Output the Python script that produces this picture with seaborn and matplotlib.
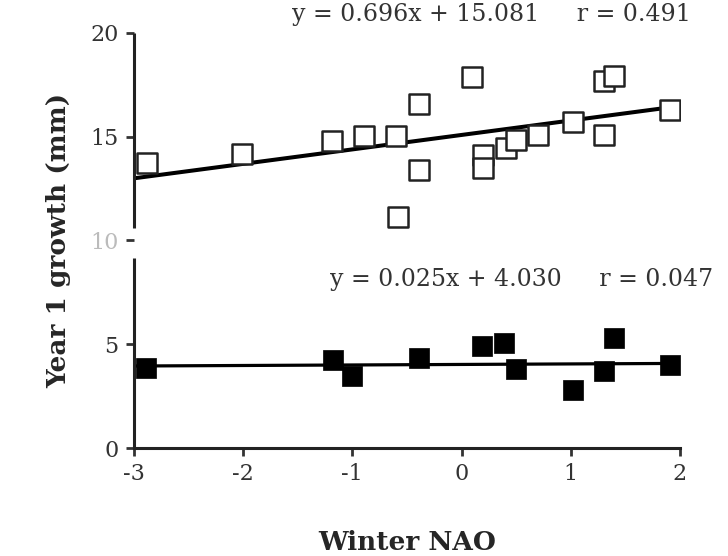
import numpy as np
import pandas as pd
import matplotlib.pyplot as plt
import seaborn as sns

# Data
open_nao = [-2.88, -2.01, -1.19, -0.89, -0.60, -0.39, -0.39, -0.58, 0.10, 0.20, 0.20,
            0.41, 0.50, 0.70, 1.02, 1.30, 1.40, 1.30, 1.91]
open_growth = [13.73, 14.17, 14.80, 15.04, 15.04, 16.58, 13.40, 11.13, 17.88, 14.10, 13.50,
               14.46, 14.84, 15.08, 15.70, 17.70, 17.90, 15.08, 16.30]

filled_nao = [-2.89, -1.18, -1.00, -0.39, 0.19, 0.39, 0.50, 1.02, 1.30, 1.40, 1.91]
filled_growth = [3.86, 4.24, 3.47, 4.34, 4.92, 5.06, 3.80, 2.80, 3.71, 5.30, 4.00]

# fitted lines (slope, intercept, r)
open_fit = (0.696, 15.081, 0.491)
filled_fit = (0.025, 4.030, 0.047)
fit_range = [-3.0, 1.95]

x_ticks = [-3, -2, -1, 0, 1, 2]
y_ticks = [0, 5, 10, 15, 20]

sns.set_style('ticks')
plt.rcParams['font.family'] = ['DejaVu Serif', 'Liberation Serif']

fig = plt.figure(figsize=(7.28, 5.56), dpi=100)
ax = fig.add_axes([0.184, 0.194, 0.750, 0.747])

df_open = pd.DataFrame({'nao': open_nao, 'growth': open_growth})
df_fill = pd.DataFrame({'nao': filled_nao, 'growth': filled_growth})

# regression lines from the printed equations
fx = np.array(fit_range)
for (slope, icpt, _), lw in ((open_fit, 2.9), (filled_fit, 2.3)):
    sns.lineplot(x=fx, y=slope * fx + icpt, color='black', linewidth=lw, ax=ax, zorder=2)

sns.scatterplot(data=df_open, x='nao', y='growth', marker='s', s=190,
                facecolor='white', edgecolor='#222222', linewidth=1.8, ax=ax, zorder=3)
sns.scatterplot(data=df_fill, x='nao', y='growth', marker='s', s=200,
                color='black', edgecolor='black', linewidth=0.5, ax=ax, zorder=3)

ax.set_xlim(-3, 2)
ax.set_ylim(0, 20)
ax.set_xticks(x_ticks)
ax.set_yticks(y_ticks)
ax.set_xticklabels([str(t) for t in x_ticks], fontsize=16, color='#333333')
ax.set_yticklabels([str(t) for t in y_ticks], fontsize=16, color='#333333')
ax.get_yticklabels()[2].set_color('#bbbbbb')
ax.tick_params(direction='out', length=6, width=2, color='#333333', pad=5)

sns.despine(ax=ax)
ax.spines['bottom'].set_linewidth(2.2)
ax.spines['bottom'].set_color('#222222')

# broken y axis: draw the left spine as two pieces
ax.spines['left'].set_visible(False)
ax.plot([0, 0], [0, 9.15 / 20], transform=ax.transAxes, color='#222222',
        linewidth=2.2, clip_on=False, solid_capstyle='butt')
ax.plot([0, 0], [10.6 / 20, 1], transform=ax.transAxes, color='#222222',
        linewidth=2.2, clip_on=False, solid_capstyle='butt')

ax.set_xlabel('Winter NAO', fontsize=19, fontweight='bold', labelpad=32)
ax.set_ylabel('Year 1 growth (mm)', fontsize=19, fontweight='bold', labelpad=14)

for (slope, icpt, r), xpos, ypos in ((open_fit, 0.655, 1.043), (filled_fit, 0.709, 0.405)):
    ax.text(xpos, ypos, f'y = {slope:.3f}x + {icpt:.3f}     r = {r:.3f}',
            transform=ax.transAxes, ha='center', va='center', fontsize=17, color='#333333')

fig.savefig('out.png', dpi=100)
